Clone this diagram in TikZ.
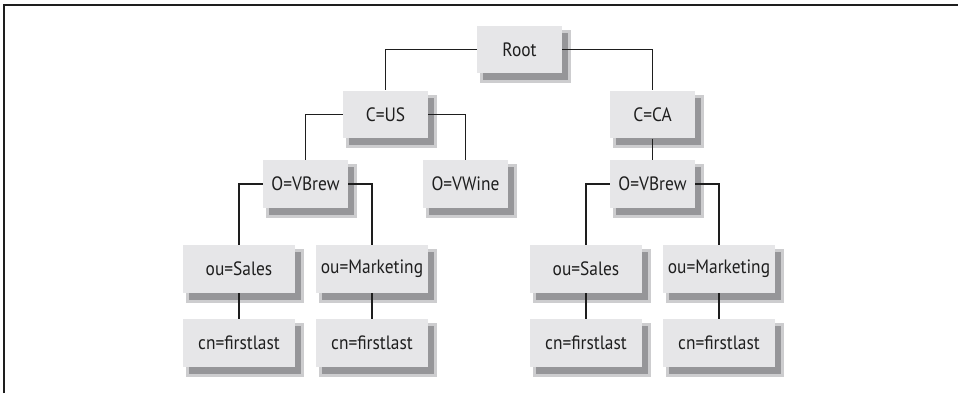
\documentclass[tikz,border=0pt]{standalone}
\usepackage{fontspec}
\setmainfont[FakeStretch=0.9]{PT Sans}
\usetikzlibrary{shadows}
\definecolor{boxfill}{RGB}{230,230,232}
\definecolor{shadedark}{RGB}{150,150,153}
\definecolor{shadelight}{RGB}{205,205,207}
\definecolor{inkgray}{RGB}{30,30,30}
\tikzset{
  entry/.style={fill=boxfill, text=inkgray, inner sep=0pt,
    minimum width=1.7cm, minimum height=0.95cm, font=\fontsize{11}{13}\selectfont,
    general shadow={fill=shadelight, draw=shadelight, line width=0.12cm,
      shadow xshift=0.12cm, shadow yshift=-0.14cm},
    general shadow={fill=shadedark, shadow xshift=0.12cm, shadow yshift=-0.14cm}},
  wide/.style={entry, minimum width=2.24cm},
  link/.style={inkgray, line width=0.6pt}
}
\begin{document}
\begin{tikzpicture}[x=0.02cm,y=-0.02cm]
    \useasboundingbox (0,0) rectangle (958,393);
    \draw[inkgray, line width=0.6pt] (4,393) -- (4,5) -- (958,5);
    \node[entry] (root) at (519.5,49.5) {Root};
    \node[entry] (cus) at (385.5,114.5) {C=US};
    \node[entry] (cca) at (652.5,114.5) {C=CA};
    \node[entry] (vbrew) at (305.5,184) {O=VBrew};
    \node[entry] (vwine) at (465.5,184) {O=VWine};
    \node[entry] (vbrewca) at (652.5,184) {O=VBrew};
    \node[wide] (sales) at (239,269) {ou=Sales};
    \node[wide] (mkt) at (372,269) {ou=Marketing};
    \node[wide] (cnsales) at (239,343) {cn=firstlast};
    \node[wide] (cnmkt) at (372,343) {cn=firstlast};
    \node[wide] (salesca) at (586,269) {ou=Sales};
    \node[wide] (mktca) at (719,269) {ou=Marketing};
    \node[wide] (cnsalesca) at (586,343) {cn=firstlast};
    \node[wide] (cnmktca) at (719,343) {cn=firstlast};
    \draw[link] (root.west) -| (cus.north);
    \draw[link] (root.east) -| (cca.north);
    \draw[link] (cus.west) -| (vbrew.north);
    \draw[link] (cus.east) -| (vwine.north);
    \draw[link] (cca.south) -- (vbrewca.north);
    \draw[link] (vbrew.west) -| (sales.north);
    \draw[link] (vbrew.east) -| (mkt.north);
    \draw[link] (vbrewca.west) -| (salesca.north);
    \draw[link] (vbrewca.east) -| (mktca.north);
    \draw[link] (sales) -- (cnsales);
    \draw[link] (mkt) -- (cnmkt);
    \draw[link] (salesca) -- (cnsalesca);
    \draw[link] (mktca) -- (cnmktca);
\end{tikzpicture}
\end{document}
